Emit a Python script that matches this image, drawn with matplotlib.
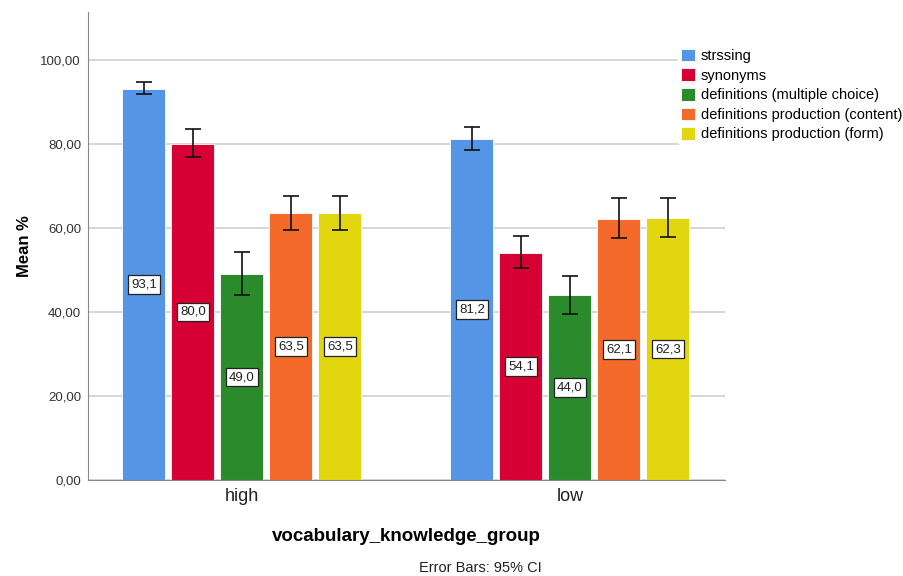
import numpy as np
import matplotlib.pyplot as plt

plt.rcParams['font.family'] = ['Liberation Sans', 'DejaVu Sans']

groups = ['high', 'low']
series = ['strssing', 'synonyms', 'definitions (multiple choice)',
          'definitions production (content)', 'definitions production (form)']
colors = ['#5595e5', '#d70035', '#2b8a2b', '#f36a2b', '#e2d70f']

means = [[93.1, 80.0, 49.0, 63.5, 63.5],
         [81.2, 54.1, 44.0, 62.1, 62.3]]
ci_low = [[91.9, 76.8, 44.1, 59.6, 59.6],
          [78.6, 50.5, 39.5, 57.6, 57.9]]
ci_high = [[94.7, 83.5, 54.3, 67.6, 67.6],
           [84.1, 58.1, 48.6, 67.1, 67.2]]

fig = plt.figure(figsize=(9.04, 5.76), dpi=100)
ax = fig.add_axes([88/904, 1 - 480/576, (725 - 88)/904, (480 - 12)/576])

width = 43/328
step = 49/328
x = np.arange(len(groups))

for i, name in enumerate(series):
    pos = x + (i - 2) * step
    vals = np.array([m[i] for m in means])
    lo = np.array([c[i] for c in ci_low])
    hi = np.array([c[i] for c in ci_high])
    ax.bar(pos, vals, width, color=colors[i], edgecolor='#ffffff', linewidth=0.6,
           label=name, zorder=2)
    ax.errorbar(pos, vals, yerr=[vals - lo, hi - vals], fmt='none', ecolor='#111111',
                elinewidth=1.2, capsize=6, capthick=1.2, zorder=3)
    for p, v in zip(pos, vals):
        ax.text(p, v/2, f'{v:.1f}'.replace('.', ','), ha='center', va='center',
                fontsize=9.5, color='#222222', zorder=4,
                bbox=dict(boxstyle='square,pad=0.25', fc='white', ec='#222222', lw=0.9))

ax.set_xlim(-0.4695, 1.4726)
ax.set_ylim(0, 111.4)
ax.set_yticks([0, 20, 40, 60, 80, 100])
ax.set_yticklabels(['0,00', '20,00', '40,00', '60,00', '80,00', '100,00'])
ax.set_xticks(x)
ax.set_xticklabels(groups)
ax.tick_params(axis='y', length=0, labelsize=9.5, labelcolor='#333333', pad=5)
ax.tick_params(axis='x', length=0, labelsize=13, labelcolor='#222222', pad=6)
ax.yaxis.grid(True, color='#d0d0d0', linewidth=1.2, zorder=0)
ax.set_axisbelow(True)
for s in ['top', 'right']:
    ax.spines[s].set_visible(False)
ax.spines['left'].set_color('#888888')
ax.spines['bottom'].set_color('#888888')

ax.set_ylabel('Mean %', fontsize=12, fontweight='bold', labelpad=6)
ax.set_xlabel('vocabulary_knowledge_group', fontsize=13.5, fontweight='bold', labelpad=16)

fig.legend(loc='upper left', bbox_to_anchor=(678/904, 1 - 46/576), frameon=True,
           facecolor='white', edgecolor='white', framealpha=1, fontsize=10.5,
           handlelength=0.95, handleheight=0.95, handletextpad=0.4, labelspacing=0.36,
           borderpad=0.2, borderaxespad=0)

fig.text(480/904, 1 - 568/576, 'Error Bars: 95% CI', ha='center', va='center',
         fontsize=10.5, color='#222222')

fig.savefig('out.png', dpi=100)
